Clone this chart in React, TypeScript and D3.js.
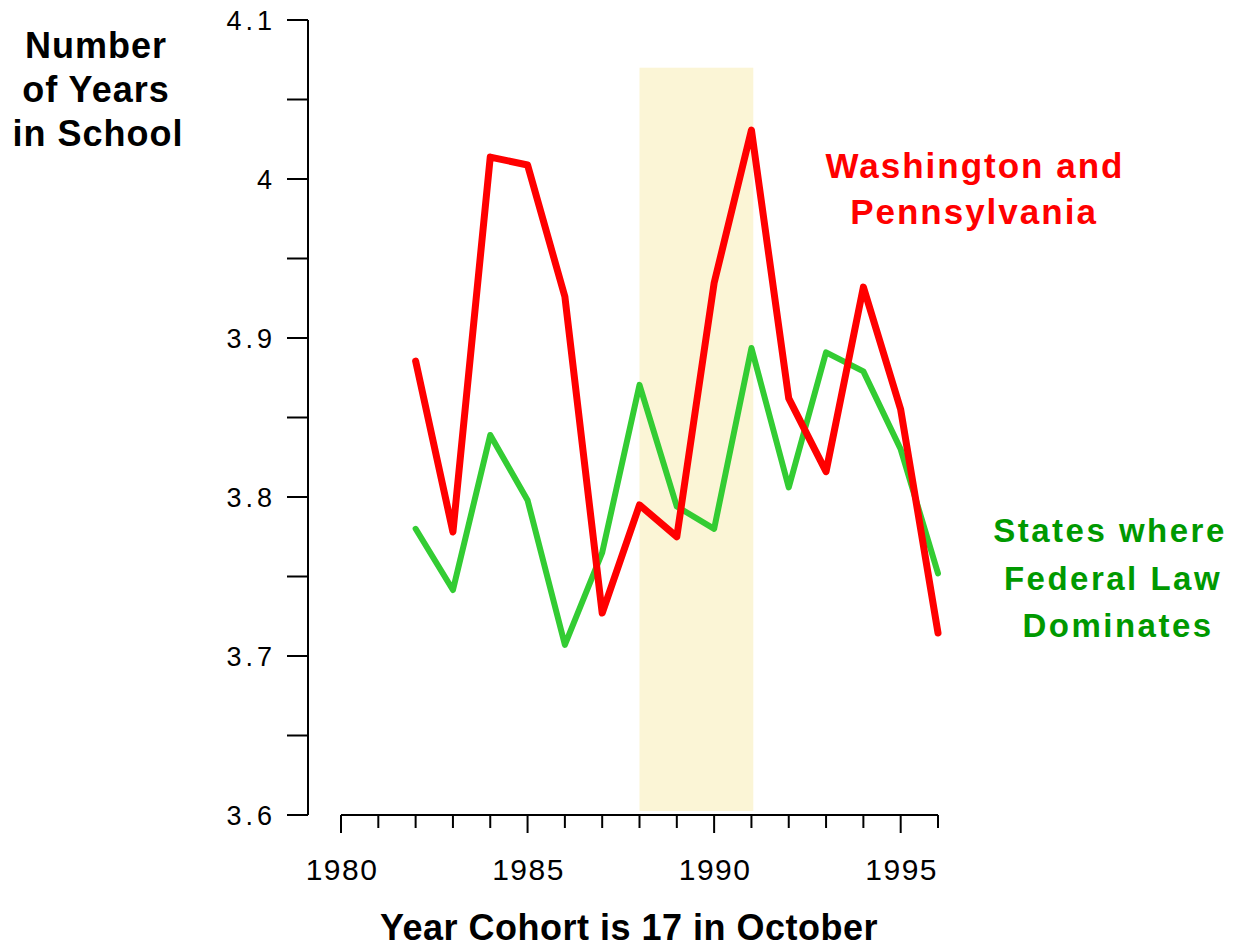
import React from "react";
import * as d3 from "d3";

const years = [1982, 1983, 1984, 1985, 1986, 1987, 1988, 1989, 1990, 1991, 1992, 1993, 1994, 1995, 1996];
const waPa = [3.8855, 3.778, 4.0138, 4.0088, 3.926, 3.727, 3.795, 3.775, 3.9346, 4.0308, 3.862, 3.816, 3.932, 3.855, 3.7145];
const federal = [3.78, 3.7415, 3.839, 3.798, 3.707, 3.765, 3.8705, 3.794, 3.78, 3.8937, 3.806, 3.891, 3.879, 3.83, 3.752];
const yTickLabels = [3.6, 3.7, 3.8, 3.9, 4, 4.1];
const yMinorTicks = [3.6, 3.65, 3.7, 3.75, 3.8, 3.85, 3.9, 3.95, 4.0, 4.05, 4.1];
const xTickYears = d3.range(1980, 1997);
const xTickLabels = [1980, 1985, 1990, 1995];
const band = [1988, 1991.05];
const bandTop = 4.07;

const W = 1236;
const H = 949;
const FONT = "'Liberation Sans', Arial, Helvetica, sans-serif";

export default function App() {
  const x = d3.scaleLinear().domain([1980, 1996]).range([341, 938]);
  const y = d3.scaleLinear().domain([3.6, 4.1]).range([815, 20]);
  const line = d3
    .line<number>()
    .x((_, i) => x(years[i]))
    .y((d) => y(d));

  const axisX = 308;
  const axisY = 815;

  return (
    <svg
      width={W}
      height={H}
      style={{ position: "absolute", left: 0, top: 0, background: "#fff" }}
      fontFamily={FONT}
    >
      <rect x={0} y={0} width={W} height={H} fill="#fff" />
      {/* shaded band */}
      <rect
        x={x(band[0])}
        y={y(bandTop)}
        width={x(band[1]) - x(band[0])}
        height={811 - y(bandTop)}
        fill="#FBF5D6"
      />
      {/* y axis */}
      <line x1={axisX} x2={axisX} y1={y(4.1)} y2={y(3.6)} stroke="#000" strokeWidth={2} />
      {yMinorTicks.map((v) => (
        <line key={"yt" + v} x1={287} x2={axisX} y1={y(v)} y2={y(v)} stroke="#000" strokeWidth={2} />
      ))}
      {yTickLabels.map((v) => (
        <text
          key={"yl" + v}
          x={276}
          y={y(v)}
          dy="0.36em"
          textAnchor="end"
          fontSize={27}
          letterSpacing={4}
          fill="#000"
        >
          {v === 4 ? "4" : v.toFixed(1)}
        </text>
      ))}
      {/* x axis */}
      <line x1={x(1980)} x2={x(1996)} y1={axisY} y2={axisY} stroke="#000" strokeWidth={2} />
      {xTickYears.map((yr) => (
        <line
          key={"xt" + yr}
          x1={x(yr)}
          x2={x(yr)}
          y1={axisY}
          y2={axisY + (xTickLabels.includes(yr) ? 18 : 13)}
          stroke="#000"
          strokeWidth={2}
        />
      ))}
      {xTickLabels.map((yr) => (
        <text
          key={"xl" + yr}
          x={x(yr) + 1}
          y={880}
          textAnchor="middle"
          fontSize={30}
          letterSpacing={1.5}
          fill="#000"
        >
          {yr}
        </text>
      ))}
      {/* lines */}
      <path
        d={line(federal) || ""}
        fill="none"
        stroke="#33CC33"
        strokeWidth={6}
        strokeLinejoin="round"
        strokeLinecap="round"
      />
      <path
        d={line(waPa) || ""}
        fill="none"
        stroke="#FF0000"
        strokeWidth={7}
        strokeLinejoin="round"
        strokeLinecap="round"
      />
      {/* y title */}
      <g fontSize={36} fontWeight="bold" textAnchor="middle" fill="#000" letterSpacing={1}>
        <text x={96} y={58}>Number</text>
        <text x={96} y={102}>of Years</text>
        <text x={98} y={146}>in School</text>
      </g>
      {/* x title */}
      <text
        x={629}
        y={940}
        textAnchor="middle"
        fontSize={36}
        fontWeight="bold"
        letterSpacing={0.5}
        fill="#000"
      >
        Year Cohort is 17 in October
      </text>
      {/* annotations */}
      <g fontSize={35} fontWeight="bold" textAnchor="middle" fill="#FF0000" letterSpacing={2}>
        <text x={975} y={178}>Washington and</text>
        <text x={974} y={224}>Pennsylvania</text>
      </g>
      <g fontSize={33} fontWeight="bold" textAnchor="middle" fill="#009900" letterSpacing={2.5}>
        <text x={1110} y={542}>States where</text>
        <text x={1113} y={590}>Federal Law</text>
        <text x={1118} y={637}>Dominates</text>
      </g>
    </svg>
  );
}
